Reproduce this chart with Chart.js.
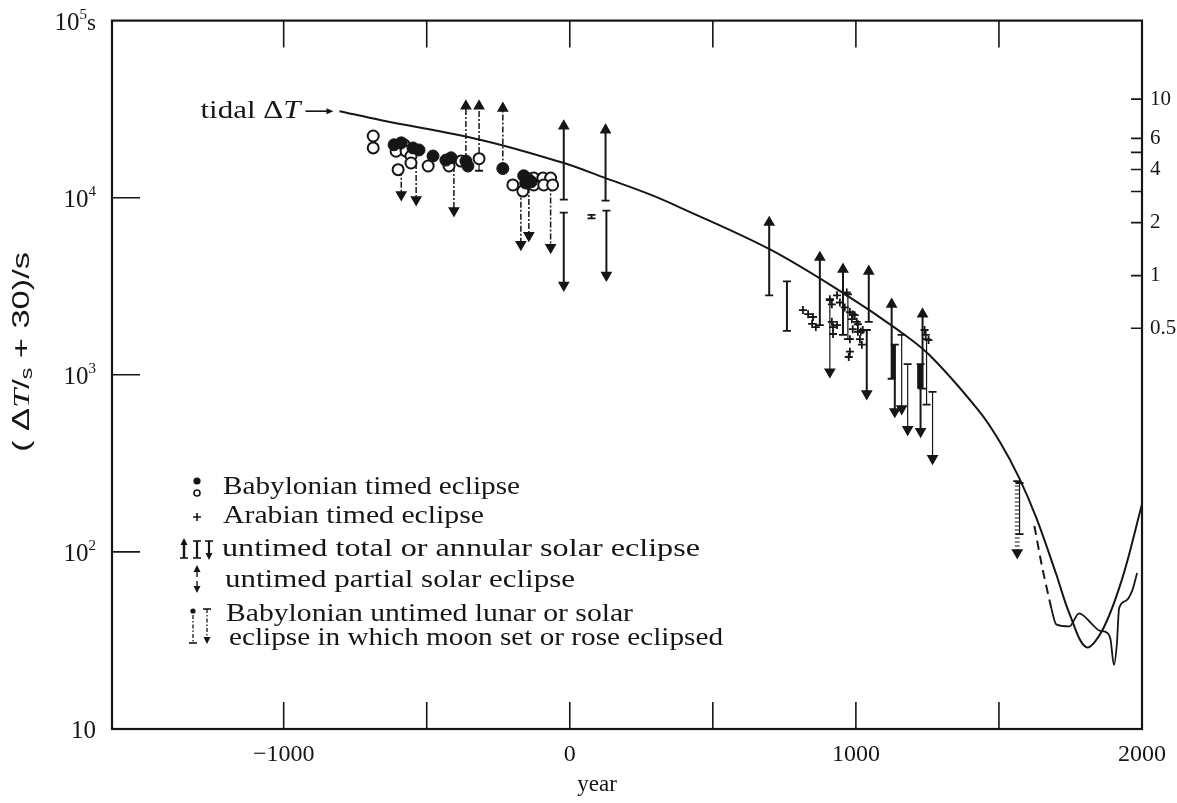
<!doctype html>
<html>

<head>
  <meta charset="utf-8">
  <title>Delta T</title>
  <style>
    body { margin: 0; background: #fff; }
  </style>
</head>

<body>
  <canvas id="myChart" width="1177" height="803"></canvas>

  <script type="text/javascript" src="https://cdn.jsdelivr.net/npm/chart.js"></script>
  <script>
    const INK = '#161616';
    const SERIF = '"Liberation Serif", "DejaVu Serif", serif';
    const SANS = '"Liberation Sans", "DejaVu Sans", sans-serif';

    // axis ticks
    const yearLabels = [-1000, 0, 1000, 2000];
    const yearTicks = [-1000, -500, 0, 500, 1000, 1500];
    const decadeTicks = [100, 1000, 10000];
    const hourTicks = [0.5, 1, 2, 3, 4, 5, 6, 10];
    const hourLabels = [0.5, 1, 2, 4, 6, 10];

    // tidal parabola, (dT/s + 30) in seconds
    const tidalYears = [-805, -659, -310, -21, 125, 282, 386, 700, 968, 1143, 1258, 1432, 1502, 1571, 1631, 1700, 1746, 1805, 1861, 1930, 2000];
    const tidalValues = [30800, 27400, 21200, 15700, 12900, 10400, 8790, 5100, 2810, 1810, 1290, 620, 421, 261, 155, 75, 45, 29, 36, 70, 186];

    // observed dT, dashed early part then solid
    const obsDashYears = [1624, 1651, 1683];
    const obsDashValues = [140, 82, 48];
    const obsYears = [1683, 1700, 1746, 1780, 1826, 1850, 1878, 1890, 1902, 1912, 1920, 1944, 1965, 1983];
    const obsValues = [48, 39, 38, 45, 39, 36, 35, 32, 23, 30, 48, 53, 60, 76];

    // Babylonian timed eclipses
    const babFilledYears = [-614, -589, -548, -527, -478, -433, -415, -363, -356, -234, -161, -154, -143, -150, -135];
    const babFilledValues = [19900, 20400, 19100, 18600, 17200, 16300, 16800, 16100, 15100, 14600, 13300, 12100, 12600, 12900, 12300];
    const babOpenYears = [-687, -687, -607, -579, -572, -555, -555, -600, -495, -422, -380, -317, -199, -164, -126, -126, -94, -67, -91, -60];
    const babOpenValues = [22300, 19100, 18300, 19900, 18300, 17200, 15700, 14400, 15100, 15100, 16100, 16600, 11800, 10900, 12900, 11800, 12900, 12900, 11800, 11800];

    // Arabian timed eclipses
    const arabYears = [815, 833, 850, 847, 860, 909, 916, 934, 916, 920, 920, 934, 944, 961, 968, 979, 986, 996, 1003, 989, 1007, 1014, 979, 1021, 979, 975, 989, 1024, 1007, 1017, 1244, 1254, 1240];
    const arabValues = [2320, 2200, 2120, 1940, 1860, 2670, 2500, 2810, 1990, 1860, 1700, 1910, 2560, 2400, 2920, 2260, 2060, 2170, 1990, 1810, 1750, 1590, 1590, 1480, 1350, 1260, 2200, 1790, 1930, 1750, 1680, 1570, 1790];

    // bars: [year, from, to, end at from, end at to]
    const totalBars = [
      [-21, 9750, 25400, 'cap', 'up'],
      [-21, 8240, 3210, 'cap', 'down'],
      [125, 9620, 24100, 'cap', 'up'],
      [128, 8450, 3650, 'cap', 'down'],
      [76, 8000, 7650, 'cap', 'cap'],
      [697, 2810, 7250, 'cap', 'up'],
      [759, 1770, 3370, 'cap', 'cap'],
      [874, 1910, 4600, 'cap', 'up'],
      [955, 1680, 3940, 'cap', 'up'],
      [1045, 1990, 3840, 'cap', 'up'],
      [1038, 1790, 782, 'cap', 'down'],
      [1125, 950, 2500, 'cap', 'up'],
      [1136, 1480, 620, 'cap', 'down'],
      [1233, 835, 2200, 'cap', 'up'],
      [1226, 1150, 479, 'cap', 'down']
    ];
    const thickBars = [
      [1131, 950, 1480, '', ''],
      [1222, 835, 1150, '', '']
    ];
    const partialBars = [
      [-317, 16600, 14200, '', 'cap'],
      [909, 2640, 1040, 'cap', 'down'],
      [972, 2850, 1590, 'cap', 'cap'],
      [1160, 1680, 644, 'cap', 'down'],
      [1181, 1150, 491, 'cap', 'down'],
      [1247, 1590, 678, 'cap', 'cap'],
      [1268, 800, 337, 'cap', 'down'],
      [1572, 245, 126, 'cap', 'cap']
    ];
    const greyBars = [
      [1564, 251, 99, 'cap', 'down']
    ];
    const setRoseBars = [
      [-589, 14400, 10400, '', 'down'],
      [-537, 15700, 9750, '', 'down'],
      [-405, 15100, 8450, '', 'down'],
      [-363, 15700, 32900, '', 'up'],
      [-317, 17900, 32900, '', 'up'],
      [-234, 14600, 32000, '', 'up'],
      [-171, 11100, 5450, '', 'down'],
      [-143, 11500, 6120, '', 'down'],
      [-67, 11700, 5240, '', 'down']
    ];

    function pairs(xs, ys) {
      return xs.map((x, i) => ({ x, y: ys[i] }));
    }

    function bars(rows) {
      const pts = [];
      rows.forEach(([year, from, to, fromEnd, toEnd]) => {
        pts.push({ x: year, y: from, end: fromEnd }, { x: year, y: to, end: toEnd }, { x: year, y: null });
      });
      return pts;
    }

    const endOf = (c) => c.raw && c.raw.end;
    const barStyle = {
      type: 'line',
      tension: 0,
      borderColor: INK,
      pointStyle: (c) => endOf(c) === 'cap' ? 'line' : 'triangle',
      pointRotation: (c) => endOf(c) === 'down' ? 180 : 0,
      pointRadius: (c) => !endOf(c) ? 0 : endOf(c) === 'cap' ? 4 : 5,
      pointBorderWidth: 1.8,
      pointBorderColor: INK,
      pointBackgroundColor: INK,
      order: 1
    };

    const curveStyle = {
      type: 'line',
      borderColor: INK,
      borderWidth: 2,
      pointRadius: 0,
      order: 2
    };

    function fitText(ctx, text, x, y, width) {
      const w = ctx.measureText(text).width;
      ctx.save();
      ctx.translate(x, y);
      ctx.scale(width / w, 1);
      ctx.fillText(text, 0, 0);
      ctx.restore();
    }

    // draws runs of text in different fonts; align: 'left', 'center' or 'right'
    function drawParts(ctx, parts, x, y, align, width) {
      let total = 0;
      parts.forEach(p => { ctx.font = p.font; total += ctx.measureText(p.text).width; });
      const k = width ? width / total : 1;
      const shown = total * k;
      const start = align === 'center' ? x - shown / 2 : align === 'right' ? x - shown : x;
      ctx.save();
      ctx.translate(start, y);
      ctx.scale(k, 1);
      let cx = 0;
      parts.forEach(p => {
        ctx.font = p.font;
        ctx.fillText(p.text, cx, p.dy || 0);
        cx += ctx.measureText(p.text).width;
      });
      ctx.restore();
    }

    function arrowHead(ctx, x, y, dir) {
      ctx.beginPath();
      ctx.moveTo(x, y);
      ctx.lineTo(x - 3.5, y - dir * 7);
      ctx.lineTo(x + 3.5, y - dir * 7);
      ctx.closePath();
      ctx.fill();
    }

    function vline(ctx, x, y1, y2, width, dash) {
      ctx.save();
      ctx.lineWidth = width;
      ctx.setLineDash(dash || []);
      ctx.beginPath();
      ctx.moveTo(x, y1);
      ctx.lineTo(x, y2);
      ctx.stroke();
      ctx.restore();
    }

    function cap(ctx, x, y) {
      ctx.beginPath();
      ctx.moveTo(x - 4, y);
      ctx.lineTo(x + 4, y);
      ctx.stroke();
    }

    // frame, inward ticks, left labels, titles and key
    const decorations = {
      id: 'decorations',
      afterDraw(chart) {
        const { ctx, chartArea: a, scales } = chart;
        ctx.save();
        ctx.strokeStyle = INK;
        ctx.fillStyle = INK;

        ctx.lineWidth = 2.2;
        ctx.strokeRect(a.left, a.top, a.right - a.left, a.bottom - a.top);

        ctx.lineWidth = 1.6;
        ctx.beginPath();
        yearTicks.forEach(v => {
          const px = scales.x.getPixelForValue(v);
          ctx.moveTo(px, a.bottom);
          ctx.lineTo(px, a.bottom - 27);
          ctx.moveTo(px, a.top);
          ctx.lineTo(px, a.top + 27);
        });
        decadeTicks.forEach(v => {
          const py = scales.y.getPixelForValue(v);
          ctx.moveTo(a.left, py);
          ctx.lineTo(a.left + 28, py);
        });
        hourTicks.forEach(h => {
          const py = scales.y2.getPixelForValue(h * 3600 + 30);
          ctx.moveTo(a.right, py);
          ctx.lineTo(a.right - 11, py);
        });
        ctx.stroke();

        // left axis powers of ten
        ctx.textBaseline = 'alphabetic';
        ctx.textAlign = 'left';
        [1, 2, 3, 4, 5].forEach(e => {
          const py = scales.y.getPixelForValue(Math.pow(10, e)) + 9;
          const parts = [{ text: '10', font: `25px ${SERIF}` }];
          if (e > 1) parts.push({ text: String(e), font: `15px ${SERIF}`, dy: -11 });
          if (e === 5) parts.push({ text: 's', font: `23px ${SERIF}` });
          drawParts(ctx, parts, 96, py, 'right');
        });

        // axis titles
        drawParts(ctx, [{ text: 'year', font: `23px ${SERIF}` }], 597, 791, 'center');

        ctx.save();
        ctx.translate(29, 352);
        ctx.rotate(-Math.PI / 2);
        drawParts(ctx, [
          { text: '( \u0394', font: `24px ${SANS}` },
          { text: 'T', font: `italic 24px ${SERIF}` },
          { text: '/', font: `24px ${SANS}` },
          { text: 's', font: `16px ${SANS}`, dy: 3 },
          { text: ' + 30)/s', font: `24px ${SANS}` }
        ], 0, 0, 'center', 200);
        ctx.restore();

        // tidal label with arrow
        const sx = scales.x.getPixelForValue(tidalYears[0]);
        const sy = scales.y.getPixelForValue(tidalValues[0]);
        ctx.lineWidth = 1.6;
        ctx.beginPath();
        ctx.moveTo(sx - 34, sy);
        ctx.lineTo(sx - 12, sy);
        ctx.stroke();
        ctx.beginPath();
        ctx.moveTo(sx - 6, sy);
        ctx.lineTo(sx - 13, sy - 3);
        ctx.lineTo(sx - 13, sy + 3);
        ctx.closePath();
        ctx.fill();
        drawParts(ctx, [
          { text: 'tidal \u0394', font: `25px ${SERIF}` },
          { text: 'T', font: `italic 25px ${SERIF}` }
        ], sx - 39, sy + 7, 'right', 100);

        // key
        ctx.lineWidth = 1.6;
        ctx.beginPath();
        ctx.arc(197, 481, 3.6, 0, Math.PI * 2);
        ctx.fill();
        ctx.beginPath();
        ctx.arc(197, 493, 3, 0, Math.PI * 2);
        ctx.stroke();
        ctx.beginPath();
        ctx.moveTo(193, 517); ctx.lineTo(201, 517);
        ctx.moveTo(197, 513); ctx.lineTo(197, 521);
        ctx.stroke();

        vline(ctx, 184, 544, 558, 2.4);
        arrowHead(ctx, 184, 538, -1);
        cap(ctx, 184, 558);
        vline(ctx, 197, 541, 558, 2.2);
        cap(ctx, 197, 541);
        cap(ctx, 197, 558);
        vline(ctx, 209, 541, 553, 2.2);
        cap(ctx, 209, 541);
        arrowHead(ctx, 209, 560, 1);

        vline(ctx, 197, 570, 577, 1.4);
        arrowHead(ctx, 197, 565, -1);
        vline(ctx, 197, 581, 587, 1.4);
        arrowHead(ctx, 197, 593, 1);

        ctx.beginPath();
        ctx.arc(193, 611, 2.6, 0, Math.PI * 2);
        ctx.fill();
        vline(ctx, 193, 615, 643, 1.3, [4, 2, 1.5, 2]);
        cap(ctx, 193, 643);
        cap(ctx, 207, 609);
        vline(ctx, 207, 609, 637, 1.3, [4, 2, 1.5, 2]);
        arrowHead(ctx, 207, 644, 1);

        ctx.font = `25px ${SERIF}`;
        fitText(ctx, 'Babylonian timed eclipse', 223, 494, 297);
        fitText(ctx, 'Arabian timed eclipse', 223, 523, 261);
        fitText(ctx, 'untimed total or annular solar eclipse', 222, 556, 478);
        fitText(ctx, 'untimed partial solar eclipse', 225, 587, 350);
        fitText(ctx, 'Babylonian untimed lunar or solar', 226, 621, 407);
        fitText(ctx, 'eclipse in which moon set or rose eclipsed', 229, 645, 494);
        ctx.restore();
      }
    };

    const data = {
      datasets: [
        {
          type: 'line', showLine: false, order: 0,
          data: pairs(babFilledYears, babFilledValues),
          pointStyle: 'circle', pointRadius: 6, pointBorderWidth: 1,
          pointBackgroundColor: INK, pointBorderColor: INK
        },
        {
          type: 'line', showLine: false, order: 0,
          data: pairs(babOpenYears, babOpenValues),
          pointStyle: 'circle', pointRadius: 5.5, pointBorderWidth: 2,
          pointBackgroundColor: '#fff', pointBorderColor: INK
        },
        {
          type: 'line', showLine: false, order: 0,
          data: pairs(arabYears, arabValues),
          pointStyle: 'cross', pointRadius: 4, pointBorderWidth: 1.8,
          pointBorderColor: INK
        },
        { ...barStyle, data: bars(totalBars), borderWidth: 2 },
        { ...barStyle, data: bars(thickBars), borderWidth: 4.5 },
        { ...barStyle, data: bars(partialBars), borderWidth: 1.2 },
        { ...barStyle, data: bars(greyBars), borderWidth: 5, borderColor: '#8a8a8a', borderDash: [2, 2] },
        { ...barStyle, data: bars(setRoseBars), borderWidth: 1.5, borderDash: [6, 2, 2, 2] },
        { ...curveStyle, data: pairs(tidalYears, tidalValues), tension: 0.35 },
        { ...curveStyle, data: pairs(obsDashYears, obsDashValues), borderDash: [9, 6], tension: 0.2 },
        { ...curveStyle, data: pairs(obsYears, obsValues), cubicInterpolationMode: 'monotone', borderWidth: 1.8 }
      ]
    };

    const config = {
      type: 'line',
      data,
      plugins: [decorations],
      options: {
        responsive: false,
        animation: false,
        events: [],
        devicePixelRatio: 1,
        layout: { padding: { top: 17, left: 0, right: 0, bottom: 0 } },
        scales: {
          x: {
            type: 'linear',
            min: -1600,
            max: 2000,
            afterBuildTicks: (s) => { s.ticks = yearLabels.map(v => ({ value: v })); },
            afterFit: (s) => { s.height = 74; },
            ticks: {
              callback: (v) => v < 0 ? '\u2212' + Math.abs(v) : String(v),
              font: { family: SERIF, size: 24 },
              color: INK,
              padding: 11,
              maxRotation: 0,
              autoSkip: false
            },
            grid: { display: false, drawTicks: false },
            border: { display: false }
          },
          y: {
            type: 'logarithmic',
            min: 10,
            max: 100000,
            afterFit: (s) => { s.width = 112; },
            ticks: { display: false },
            grid: { display: false, drawTicks: false },
            border: { display: false }
          },
          y2: {
            type: 'logarithmic',
            position: 'right',
            min: 10,
            max: 100000,
            afterBuildTicks: (s) => { s.ticks = hourTicks.map(h => ({ value: h * 3600 + 30 })); },
            afterFit: (s) => { s.width = 34; },
            ticks: {
              callback: (v) => {
                const h = Math.round((v - 30) / 360) / 10;
                return hourLabels.includes(h) ? String(h) : '';
              },
              font: { family: SERIF, size: 21 },
              color: INK,
              padding: 8,
              autoSkip: false
            },
            grid: { display: false, drawTicks: false },
            border: { display: false }
          }
        },
        plugins: {
          legend: { display: false },
          tooltip: { enabled: false }
        }
      }
    };

    const myChart = new Chart(document.getElementById('myChart'), config);
  </script>
</body>

</html>
